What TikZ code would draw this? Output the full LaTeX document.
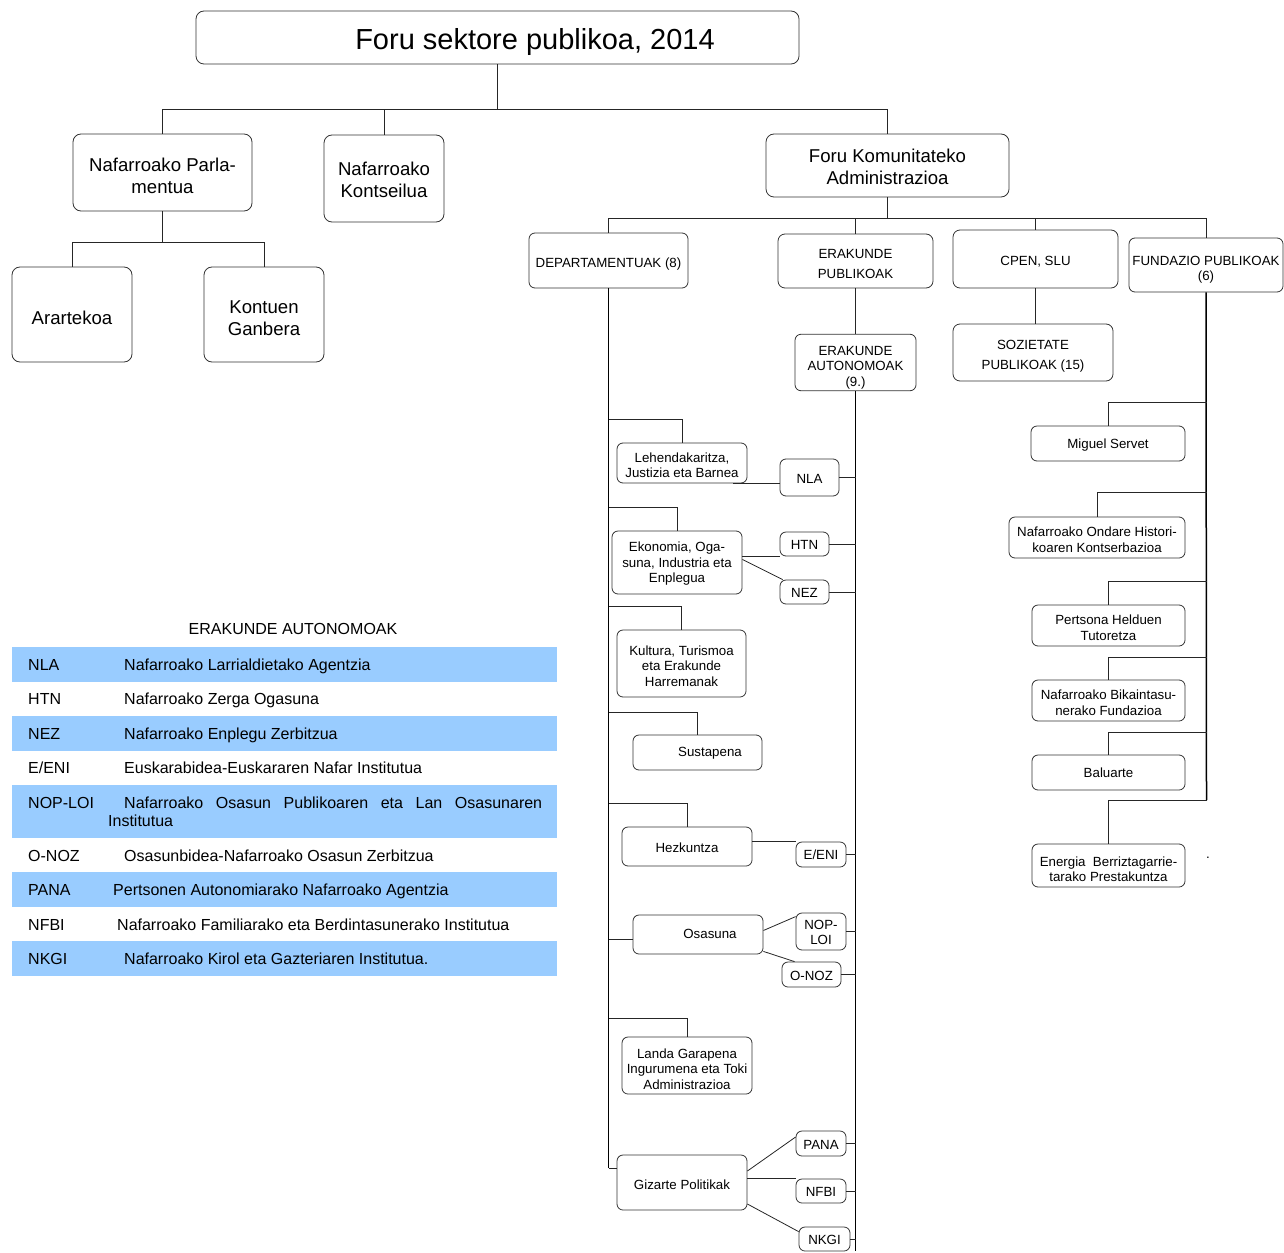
\documentclass[tikz,border=0pt]{standalone}
\usepackage{fontspec}
\setmainfont{Liberation Sans}
\newcommand\myfs[2]{\fontsize{#1}{#2}\selectfont}
\newcommand\tx[2][7pt]{\raisebox{0pt}[\dimexpr\height+#1\relax][\depth]{\begin{tabular}{@{}c@{}}#2\end{tabular}}}
\definecolor{bandblue}{RGB}{153,204,255}
\tikzset{
  sz/.style 2 args={minimum width=#1pt, minimum height=#2pt},
  bx/.style={draw=black!80, line width=0.8pt, rounded corners=8pt, align=center, inner sep=0pt},
  bigbox/.style={bx, font=\myfs{18.6}{22}},
  smbox/.style={bx, rounded corners=6pt, font=\myfs{13.3}{15.5}},
  widebox/.style={bx, rounded corners=7pt, font=\myfs{13.3}{20}},
  conn/.style={draw=black!85, line width=0.8pt},
  trunk/.style={draw=black, line width=1.5pt},
  band/.style={fill=bandblue, draw=none, inner sep=0pt, minimum width=545pt, minimum height=#1pt},
  lg/.style={font=\myfs{16}{18}, inner sep=0pt, anchor=base west},
}
\begin{document}
\begin{tikzpicture}[x=1pt,y=-1pt]
\useasboundingbox (0,0) rectangle (1284,1252);

% ---------- top level ----------
\node[bx, font=\myfs{29}{34}, sz={603}{53}] (title) at (497.5,37.5) {\tx[10pt]{\hspace*{75pt}Foru sektore publikoa, 2014}};
\node[bigbox, sz={179}{77}] (parl) at (162.5,172.5) {\tx[11.5pt]{Nafarroako Parla-\\mentua}};
\node[bigbox, sz={120}{87}] (kons) at (384,178.5) {\tx[7pt]{Nafarroako\\Kontseilua}};
\node[bigbox, sz={243}{63}] (fka) at (887.5,165.5) {\tx[7pt]{Foru Komunitateko\\Administrazioa}};
\node[bigbox, sz={120}{95}] (arar) at (72,314.5) {\tx[10.5pt]{Arartekoa}};
\node[bigbox, sz={120}{95}] (kont) at (264,314.5) {\tx[10.5pt]{Kontuen\\Ganbera}};

\coordinate (j1) at (497.5,109);
\draw[conn] (title.south) -- (j1);
\draw[conn] (parl.north) |- (fka.north |- j1) -- (fka.north);
\draw[conn] (kons.north) -- (kons.north |- j1);
\coordinate (j2) at (162.5,242);
\draw[conn] (parl.south) -- (j2);
\draw[conn] (arar.north) |- (kont.north |- j2) -- (kont.north);

% ---------- second level ----------
\node[smbox, sz={159}{55}] (dep) at (608.5,260.5) {\tx[8pt]{DEPARTAMENTUAK (8)}};
\node[widebox, sz={155}{54}] (erp) at (855.5,261) {\tx[6.5pt]{ERAKUNDE\\PUBLIKOAK}};
\node[widebox, sz={165}{58}] (cpen) at (1035.5,259) {\tx[5.5pt]{CPEN, SLU}};
\node[smbox, sz={154}{54}] (fund) at (1206,265) {\tx[10pt]{FUNDAZIO PUBLIKOAK\\(6)}};
\node[widebox, sz={160}{57}] (soz) at (1033,352.5) {\tx[6.5pt]{SOZIETATE\\PUBLIKOAK (15)}};
\node[smbox, sz={121}{55}] (eau) at (855.5,362.5) {\tx[10pt]{ERAKUNDE\\AUTONOMOAK\\(9.)}};

\coordinate (j3) at (887.5,218);
\draw[conn] (fka.south) -- (j3);
\draw[conn] (dep.north) |- (fund.north |- j3) -- (fund.north);
\draw[conn] (erp.north) -- (erp.north |- j3);
\draw[conn] (cpen.north) -- (cpen.north |- j3);
\draw[conn] (cpen.south) -- (cpen.south |- soz.north);
\draw[conn] (erp.south) -- (erp.south |- eau.north);

% ---------- departments ----------
\node[smbox, sz={130}{40}] (leh) at (682,463) {\tx[8pt]{Lehendakaritza,\\Justizia eta Barnea}};
\node[smbox, sz={130}{63}] (eko) at (677,562.5) {\tx[3pt]{Ekonomia, Oga-\\suna, Industria eta\\Enplegua}};
\node[smbox, sz={129}{67}] (kul) at (681.5,663.5) {\tx[8pt]{Kultura, Turismoa\\eta Erakunde\\Harremanak}};
\node[smbox, sz={129}{35}] (sus) at (697.5,752.5) {\tx[1pt]{\hspace*{25pt}Sustapena}};
\node[smbox, sz={130}{39}] (hez) at (687,846.5) {\tx[5pt]{Hezkuntza}};
\node[smbox, sz={130}{39}] (osa) at (698,934.5) {\tx[1pt]{\hspace*{24pt}Osasuna}};
\node[smbox, sz={130}{57}] (lan) at (687,1065.5) {\tx[10pt]{Landa Garapena\\Ingurumena eta Toki\\Administrazioa}};
\node[smbox, sz={130}{55}] (giz) at (682,1182.5) {\tx[7pt]{Gizarte Politikak}};

\coordinate (dend) at (608.5,1168);
\draw[trunk] (dep.south) -- (dend);
\draw[conn] (dend) -- (dend -| giz.west);
\coordinate (d1) at (608.5,419);
\coordinate (d2) at (608.5,507);
\coordinate (d3) at (608.5,606);
\coordinate (d4) at (608.5,712);
\coordinate (d5) at (608.5,803);
\coordinate (d6) at (608.5,939);
\coordinate (d7) at (608.5,1018);
\draw[conn] (d1) -| (leh.north);
\draw[conn] (d2) -| (eko.north);
\draw[conn] (d3) -| (kul.north);
\draw[conn] (d4) -| (sus.north);
\draw[conn] (d5) -| (hez.north);
\draw[conn] (d6) -- (d6 -| osa.west);
\draw[conn] (d7) -| (lan.north);

% ---------- autonomous bodies ----------
\node[smbox, sz={59}{37}] (nla) at (809.5,477.5) {\tx[5pt]{NLA}};
\node[smbox, sz={49}{24}] (htn) at (804.5,544) {\tx[4.5pt]{HTN}};
\node[smbox, sz={49}{24}] (nez) at (804.5,592) {\tx[4.5pt]{NEZ}};
\node[smbox, sz={50}{25}] (eeni) at (821,854.5) {\tx[4.5pt]{E/ENI}};
\node[smbox, sz={50}{37}] (nop) at (821,931.5) {\tx[5pt]{NOP-\\LOI}};
\node[smbox, sz={59}{25}] (onoz) at (811.5,974.5) {\tx[6pt]{O-NOZ}};
\node[smbox, sz={50}{25}] (pana) at (821,1143.5) {\tx[5pt]{PANA}};
\node[smbox, sz={50}{24}] (nfbi) at (821,1191) {\tx[5pt]{NFBI}};
\node[smbox, sz={51}{24}] (nkgi) at (824.5,1239) {\tx[5pt]{NKGI}};

\coordinate (eend) at (855.5,1251);
\draw[trunk] (eau.south) -- (eend);
\foreach \n in {nla,htn,nez,eeni,nop,onoz,pana,nfbi,nkgi}
  \draw[conn] (\n.east) -- (\n.east -| eend);

\draw[conn] ([xshift=-14pt]leh.south east) -- (nla.west |- leh.south east);
\draw[conn] (eko.east |- htn.south) -- (htn.south west);
\draw[conn] ([yshift=3pt]eko.east) -- ([xshift=3pt]nez.north west);
\draw[conn] (hez.east |- eeni.north west) -- (eeni.north west);
\draw[conn] ([yshift=4pt]osa.east) -- ([yshift=-4pt]nop.north west);
\draw[conn] ([yshift=3pt]osa.south east) -- ([xshift=13pt]onoz.north west);
\draw[conn] ([yshift=11.5pt]giz.east) -- ([yshift=6.5pt]pana.west);
\draw[conn] (giz.east |- nfbi.north west) -- (nfbi.north west);
\draw[conn] ([yshift=-21.5pt]giz.east) -- ([yshift=-5pt]nkgi.north west);

% ---------- foundations ----------
\node[smbox, sz={154}{35}] (mig) at (1108,443.5) {\tx[3pt]{Miguel Servet}};
\node[smbox, sz={176}{41}] (ond) at (1097,537.5) {\tx[8pt]{Nafarroako Ondare Histori-\\koaren Kontserbazioa}};
\node[smbox, sz={153}{41}] (per) at (1108.5,625.5) {\tx[8pt]{Pertsona Helduen\\Tutoretza}};
\node[smbox, sz={153}{41}] (bik) at (1108.5,700.5) {\tx[8pt]{Nafarroako Bikaintasu-\\nerako Fundazioa}};
\node[smbox, sz={153}{35}] (bal) at (1108.5,772.5) {\tx[4pt]{Baluarte}};
\node[smbox, sz={153}{43}] (ene) at (1108.5,865.5) {\tx[11pt]{Energia~~Berriztagarrie-\\tarako Prestakuntza}};
\node[font=\myfs{13.3}{15}, inner sep=0pt] (dot) at (1208,858) {.};

\coordinate (fend) at (1206.5,800);
\draw[trunk] (fund.south) -- (fend);
\coordinate (f1) at (1206.5,402);
\coordinate (f2) at (1206.5,492);
\coordinate (f3) at (1206.5,581);
\coordinate (f4) at (1206.5,657);
\coordinate (f5) at (1206.5,732);
\draw[conn] (f1) -| (mig.north);
\draw[conn] (f2) -| (ond.north);
\draw[conn] (f3) -| (per.north);
\draw[conn] (f4) -| (bik.north);
\draw[conn] (f5) -| (bal.north);
\draw[conn] (fend) -| (ene.north);

% ---------- legend ----------
\node[font=\myfs{16}{18}, inner sep=0pt] (lgtitle) at (293,629) {ERAKUNDE AUTONOMOAK};
\node[band=35] (b1) at (284.5,664.5) {};
\node[band=35] (b3) at (284.5,733.5) {};
\node[band=53] (b5) at (284.5,811.5) {};
\node[band=35] (b7) at (284.5,889.5) {};
\node[band=35] (b9) at (284.5,958.5) {};

\node[lg] (a1) at (28,670.2) {NLA};
\node[lg] (t1) at (124,670.2) {Nafarroako Larrialdietako Agentzia};
\node[lg] (a2) at (28,704.2) {HTN};
\node[lg] (t2) at (124,704.2) {Nafarroako Zerga Ogasuna};
\node[lg] (a3) at (28,739.2) {NEZ};
\node[lg] (t3) at (124,739.2) {Nafarroako Enplegu Zerbitzua};
\node[lg] (a4) at (28,773.2) {E/ENI};
\node[lg] (t4) at (124,773.2) {Euskarabidea-Euskararen Nafar Institutua};
\node[lg] (a5) at (28,808.2) {NOP-LOI};
\node[lg] (t5) at (124,808.2) {\makebox[418pt][s]{Nafarroako Osasun Publikoaren eta Lan Osasunaren}};
\node[lg] (t5b) at (108,826.2) {Institutua};
\node[lg] (a6) at (28,861.2) {O-NOZ};
\node[lg] (t6) at (124,861.2) {Osasunbidea-Nafarroako Osasun Zerbitzua};
\node[lg] (a7) at (28,895.2) {PANA};
\node[lg] (t7) at (113,895.2) {Pertsonen Autonomiarako Nafarroako Agentzia};
\node[lg] (a8) at (28,930.2) {NFBI};
\node[lg] (t8) at (117,930.2) {Nafarroako Familiarako eta Berdintasunerako Institutua};
\node[lg] (a9) at (28,964.2) {NKGI};
\node[lg] (t9) at (124,964.2) {Nafarroako Kirol eta Gazteriaren Institutua.};
\end{tikzpicture}
\end{document}
